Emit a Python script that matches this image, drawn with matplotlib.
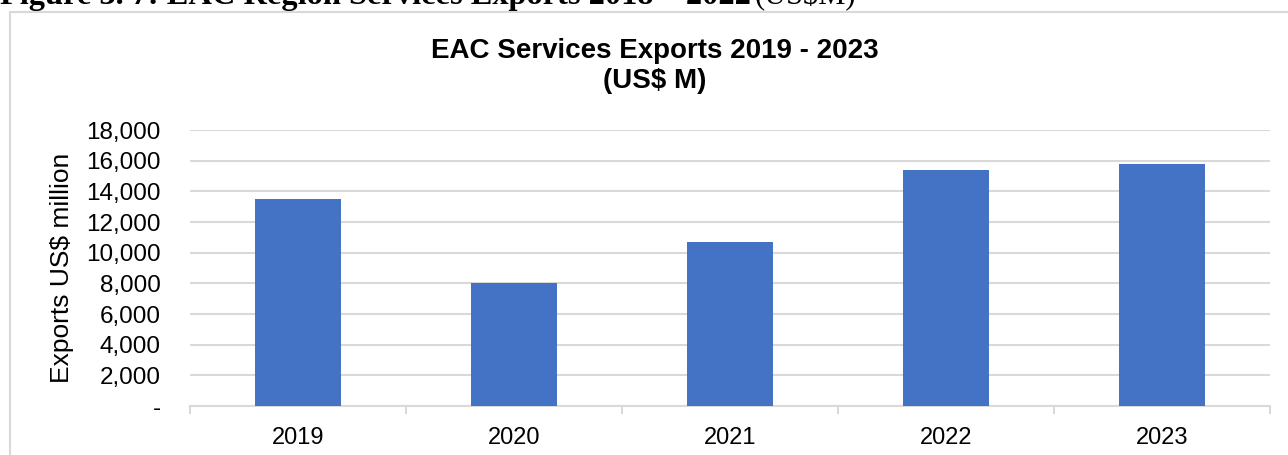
import numpy as np
import matplotlib.pyplot as plt
from matplotlib.patches import Rectangle
from matplotlib.ticker import FuncFormatter

# Datos
anios = ["2019", "2020", "2021", "2022", "2023"]
exportaciones = [13500, 8000, 10700, 15400, 15800]
marcas_y = [0, 2000, 4000, 6000, 8000, 10000, 12000, 14000, 16000, 18000]

plt.rcParams['font.family'] = ['Liberation Sans', 'DejaVu Sans']

fig = plt.figure(figsize=(12.88, 4.55), dpi=100)

# Encabezado del documento (cortado arriba)
serif = ['Liberation Serif', 'DejaVu Serif']
fig.text(0.0, 1.0 - 4 / 455, "Figure 3. 7: EAC Region Services Exports 2018 – 2022",
         family=serif, fontsize=23.3, fontweight='bold', ha='left', va='baseline')
fig.text(755 / 1288, 1.0 - 4 / 455, "(US$M)",
         family=serif, fontsize=22, ha='left', va='baseline')

# Marco del gráfico
marco = Rectangle((10 / 1288, -0.1), 1.2, 1.1 - 12 / 455, transform=fig.transFigure,
                  fill=False, edgecolor='#d9d9d9', linewidth=1.5)
fig.add_artist(marco)

ax = fig.add_axes([190 / 1288, 1 - 406 / 455, (1270 - 190) / 1288, (406 - 130) / 455])

x = np.arange(len(anios))
ax.bar(x, exportaciones, width=0.4, color='#4472c4', zorder=3)

ax.set_xlim(-0.5, len(anios) - 0.5)
ax.set_ylim(0, 18000)
ax.set_yticks(marcas_y)
ax.yaxis.set_major_formatter(FuncFormatter(lambda v, p: "-" if v == 0 else f"{int(v):,}"))
ax.grid(axis='y', color='#d9d9d9', linewidth=1.5, zorder=0)

ax.set_xticks(x)
ax.set_xticklabels(anios)
ax.set_xticks(np.arange(-0.5, len(anios)), minor=True)
ax.tick_params(axis='x', which='major', length=0, pad=15, labelsize=17)
ax.tick_params(axis='x', which='minor', length=6, color='#d9d9d9', width=1.5)
ax.tick_params(axis='y', length=0, pad=21, labelsize=17.5)

for lado in ['top', 'right', 'left']:
    ax.spines[lado].set_visible(False)
ax.spines['bottom'].set_color('#d9d9d9')
ax.spines['bottom'].set_linewidth(1.5)

ax.set_ylabel("Exports US$ million", fontsize=19)
ax.yaxis.set_label_coords(-(190 - 74) / 1080, 0.5)

fig.text(655 / 1288, 1 - 66 / 455, "EAC Services Exports 2019 - 2023\n(US$ M)",
         ha='center', va='center', fontsize=20, fontweight='bold', linespacing=1.2)

fig.savefig("out.png", dpi=100)
